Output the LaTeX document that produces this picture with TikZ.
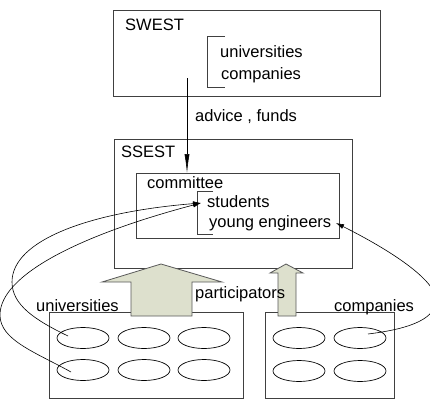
\documentclass[tikz,border=0pt]{standalone}
\usepackage{fontspec}
\setmainfont{Liberation Sans}
\usetikzlibrary{arrows.meta,calc,positioning,shapes.geometric}
\definecolor{flowfill}{RGB}{221,224,205}

\tikzset{
  frame/.style={draw=black!75, line width=0.9pt, inner sep=0pt, anchor=north west},
  txt/.style={anchor=base west, inner sep=0pt, font=\fontsize{16.5}{20}\selectfont},
  member/.style={draw, ellipse, line width=0.7pt, minimum width=52pt, minimum height=21pt, inner sep=0pt},
  flow/.style={draw=black!65, fill=flowfill, line width=0.8pt, line join=miter},
  link/.style={-{Latex[length=8pt,width=5pt]}, line width=0.6pt},
  bracket/.style={draw=black!75, line width=0.8pt}
}

\begin{document}
\begin{tikzpicture}[x=1pt,y=-1pt]
  \useasboundingbox (0,0) rectangle (430,399);

  % outer boxes
  \node[frame, minimum width=267pt, minimum height=86pt]  (swest)     at (113,10)  {};
  \node[frame, minimum width=238pt, minimum height=129pt] (ssest)     at (114,139) {};
  \node[frame, minimum width=203pt, minimum height=65pt]  (committee) at (136,173) {};
  \node[frame, minimum width=194pt, minimum height=86pt]  (unipool)   at (49,312)  {};
  \node[frame, minimum width=129pt, minimum height=86pt]  (compool)   at (265,312) {};

  % SWEST contents
  \node[txt] (swest-title) at (125,30) {SWEST};
  \node[txt] (swest-uni)   at (220,57) {universities};
  \node[txt] (swest-com)   at (221,79) {companies};
  \draw[bracket] (225,36) -- (207,36) -- (207,87) -- (225,87);

  % SSEST contents
  \node[txt] (ssest-title) at (121,157) {SSEST};
  \node[txt] (comm-title)  at (147,188) {committee};
  \node[txt] (students)    at (207,207) {students};
  \node[txt] (engineers)   at (209,227) {young engineers};
  \draw[bracket] (213,191) -- (197,191) -- (197,234) -- (213,234);

  \coordinate (stud-in) at (201,203);
  \coordinate (eng-in)  at (336,223);

  % advice and funds
  \coordinate (advice-from) at (187,78);
  \draw[-{Latex[length=19pt,width=5pt]}, line width=0.6pt]
    (advice-from) -- (advice-from |- committee.north);
  \node[txt] (advice) at (195,121) {advice , funds};

  % members
  \foreach \col/\cx in {1/83,2/144,3/204}
    \foreach \row/\cy in {1/338,2/370}
      \node[member] (uni-\row-\col) at (\cx,\cy) {};
  \foreach \col/\cx in {1/299,2/360}
    \foreach \row/\cy in {1/338,2/371}
      \node[member] (com-\row-\col) at (\cx,\cy) {};

  \node[txt] (uni-title) at (36,311)  {universities};
  \node[txt] (com-title) at (334,311) {companies};

  % participants going up
  \draw[flow] (161,264) -- (222,282) -- (192,282) -- (192,316)
    -- (131,316) -- (131,282) -- (102,282) -- cycle;
  \draw[flow] (286,264) -- (303,273) -- (296,273) -- (296,316)
    -- (278,316) -- (278,273) -- (270,273) -- cycle;
  \node[txt] (participators) at (195,298) {participators};

  % who sits in the committee
  \draw[link] ($ (uni-1-1.center) + (-15,-2) $)
    .. controls (35,320) and (12,305) .. (12,282)
    .. controls (12,240) and (90,212) .. (stud-in);
  \draw[link] ($ (uni-2-1.center) + (-12,2) $)
    .. controls (35,352) and (0,340) .. (0,315)
    .. controls (0,275) and (80,235) .. (stud-in);
  \draw[link] ($ (com-1-2.center) + (8,-4) $)
    .. controls (400,330) and (436,322) .. (436,300)
    .. controls (436,280) and (390,250) .. (eng-in);

\end{tikzpicture}
\end{document}
